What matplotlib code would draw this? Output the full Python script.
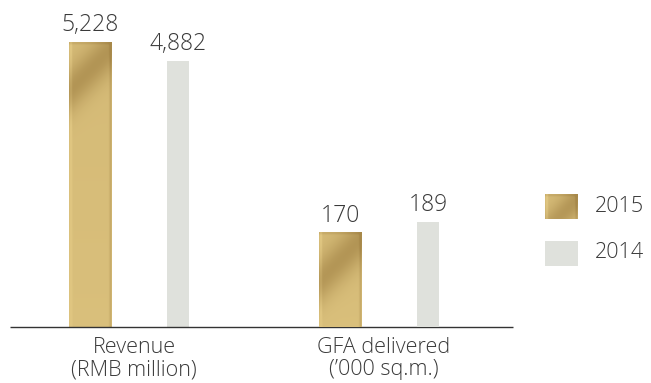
import numpy as np
import matplotlib
matplotlib.use("Agg")
import matplotlib.pyplot as plt
from matplotlib.patches import Rectangle

# ---- data ----
categories = ["Revenue\n(RMB million)", "GFA delivered\n(\u2019000 sq.m.)"]
years = ["2015", "2014"]
values_2015 = [5228, 170]
values_2014 = [4882, 189]

# ---- style ----
TEXT = "#3a3a3a"
GREY = "#dfe1dc"
LIGHT = np.array([0.875, 0.775, 0.505])
DARK = np.array([0.655, 0.535, 0.290])
FONT = ["Open Sans", "DejaVu Sans"]
WEIGHT = "light"

W_PX, H_PX = 651, 383
fig = plt.figure(figsize=(W_PX / 100, H_PX / 100), dpi=100)
fig.patch.set_facecolor("white")

base_y = 327
ax = fig.add_axes([0, 1 - base_y / H_PX, 1, base_y / H_PX])
ax2 = ax.twinx()
axes = [ax, ax2]
# each metric has its own vertical scale
ax.set_ylim(0, 6000)
ax2.set_ylim(0, 591)
for a in axes:
    a.set_xlim(-134 / 250, (W_PX - 134) / 250)
    a.axis("off")
    a.patch.set_alpha(0)


def gold_texture(w, h):
    xx, yy = np.meshgrid(np.arange(w) + 0.5, np.arange(h) + 0.5)
    d = (xx + yy) - w * 1.15
    band = np.exp(-(d / (0.55 * w)) ** 2)
    t = 0.18 + 0.62 * band
    # a touch lighter toward the bottom
    t -= 0.08 * (yy / max(h, 1))
    # thin bright rim on the left, darker rim on the right and top
    t -= 0.25 * np.exp(-((xx - 2.0) / 1.2) ** 2)
    t += 0.30 * np.exp(-((xx - (w - 1.5)) / 1.3) ** 2)
    t += 0.25 * np.exp(-((yy - 1.0) / 1.5) ** 2)
    t = np.clip(t, 0, 1)[..., None]
    return LIGHT * (1 - t) + DARK * t


offset = 0.176
gold_w = 0.172
grey_w = 0.088
px_per_x = 250

for i, a in enumerate(axes):
    v15, v14 = values_2015[i], values_2014[i]
    x15, x14 = i - offset, i + offset
    # 2015 bar with a gold texture
    a.bar(x15, v15, width=gold_w, color=LIGHT, zorder=2)
    ylo, yhi = a.get_ylim()
    h_px = int(round(v15 / (yhi - ylo) * base_y))
    tex = gold_texture(int(round(gold_w * px_per_x)), max(h_px, 2))
    a.imshow(tex, extent=(x15 - gold_w / 2, x15 + gold_w / 2, 0, v15),
             aspect="auto", interpolation="bilinear", zorder=3)
    # 2014 bar
    a.bar(x14, v14, width=grey_w, color=GREY, zorder=2)
    for x, v in ((x15, v15), (x14, v14)):
        a.annotate(f"{v:,}", (x, v), xytext=(0, 8.0), textcoords="offset points",
                   ha="center", va="baseline", fontsize=16.5, color=TEXT,
                   family=FONT, fontweight=WEIGHT, zorder=4)
    a.set_xlim(-134 / 250, (W_PX - 134) / 250)

# baseline
ax.hlines(0, (10 - 134) / 250, (513 - 134) / 250, color="#333333", lw=1.0,
          zorder=5, clip_on=False)

# category labels
for i, c in enumerate(categories):
    ax.annotate(c, (i, 0), xytext=(0, -7), textcoords="offset points",
                ha="center", va="top", fontsize=15.5, color=TEXT, family=FONT,
                fontweight=WEIGHT, linespacing=1.1, annotation_clip=False)

# legend
leg_x0, leg_w = 545 / W_PX, 33 / W_PX
leg_h = 25 / H_PX
gold_ax = fig.add_axes([leg_x0, 1 - 219 / H_PX, leg_w, leg_h])
gold_ax.imshow(gold_texture(33, 25), aspect="auto", interpolation="bilinear")
gold_ax.axis("off")
fig.add_artist(Rectangle((leg_x0, 1 - 266 / H_PX), leg_w, leg_h,
                         transform=fig.transFigure, color=GREY, lw=0))
for label, yc in zip(years, (206, 253)):
    fig.text(595 / W_PX, 1 - yc / H_PX, label, ha="left", va="center",
             fontsize=15.5, color=TEXT, family=FONT, fontweight=WEIGHT)

fig.savefig("out.png", dpi=100, facecolor="white")
